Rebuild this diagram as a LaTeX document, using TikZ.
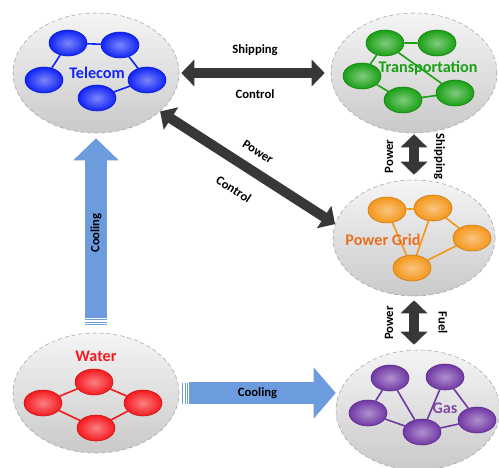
\documentclass[tikz,border=0pt]{standalone}
\usepackage{fontspec}
\setmainfont{Carlito}
\usetikzlibrary{shapes.geometric, arrows.meta, calc}

\definecolor{telblue}{RGB}{15,35,245}
\definecolor{tragreen}{RGB}{25,160,20}
\definecolor{pgorange}{RGB}{245,150,25}
\definecolor{pgtext}{RGB}{235,110,30}
\definecolor{watred}{RGB}{245,25,30}
\definecolor{gaspurple}{RGB}{112,55,165}
\definecolor{gastext}{RGB}{125,75,165}
\definecolor{coolblue}{RGB}{108,155,222}
\definecolor{darkarrow}{RGB}{55,55,55}

\tikzset{
  sysbox/.style={ellipse, minimum width=41.5mm, minimum height=30mm, draw=gray!70,
    densely dashed, thin, top color=gray!8, bottom color=gray!42},
  subnet/.style={ellipse, minimum width=9.5mm, minimum height=6.5mm, inner sep=0pt,
    draw=#1!80!black, thin, inner color=#1!55!white, outer color=#1},
  link/.style={line width=0.4mm, draw=#1},
  systitle/.style={font=\fontsize{11.5}{13}\selectfont\bfseries, text=#1},
  lbl/.style={font=\fontsize{9}{10}\selectfont\bfseries, inner sep=0pt},
  dblarrow/.style={draw=darkarrow, line width=2.5mm,
    {Triangle[width=6.5mm,length=3.25mm]}-{Triangle[width=6.5mm,length=3.25mm]}},
  coolarrow/.style={draw=coolblue, line width=5.5mm, -{Triangle[width=#1,length=5.5mm]}},
  coolarrow/.default=11mm,
  stripe/.style={draw=coolblue, line width=0.35mm},
}

\begin{document}
\begin{tikzpicture}[x=0.25mm, y=0.25mm]
  \useasboundingbox (0,0) rectangle (499,467);

  % 五个系统
  \node[sysbox] (tel) at (96,394) {};
  \node[sysbox] (tra) at (414,394) {};
  \node[sysbox, minimum width=40.5mm, minimum height=29mm] (pg) at (414,229) {};
  \node[sysbox] (wat) at (96,74) {};
  \node[sysbox, minimum width=41mm] (gas) at (418,57) {};

  % Telecom
  \node[subnet=telblue] (tc1) at (68,424) {};
  \node[subnet=telblue] (tc2) at (120,422) {};
  \node[subnet=telblue] (tc3) at (44,387) {};
  \node[subnet=telblue] (tc4) at (147,387) {};
  \node[subnet=telblue] (tc5) at (97,369) {};
  \draw[link=telblue] (tc1) -- (tc2) (tc2) -- (tc4) (tc4) -- (tc5) (tc1) -- (tc3);
  \node[systitle=telblue] (telname) at (97,394) {Telecom};

  % Transportation
  \node[subnet=tragreen] (tr1) at (385,424) {};
  \node[subnet=tragreen] (tr2) at (437,424) {};
  \node[subnet=tragreen] (tr3) at (362,391) {};
  \node[subnet=tragreen] (tr4) at (403,367) {};
  \node[subnet=tragreen] (tr5) at (455,374) {};
  \draw[link=tragreen] (tr1) -- (tr2) (tr1) -- (tr3) (tr3) -- (tr4) (tr4) -- (tr5) (tr1) -- (tr5);
  \node[systitle=tragreen] (traname) at (428,399) {Transportation};

  % Power Grid
  \node[subnet=pgorange] (pg1) at (387,257) {};
  \node[subnet=pgorange] (pg2) at (433,259) {};
  \node[subnet=pgorange] (pg3) at (472,229) {};
  \node[subnet=pgorange] (pg4) at (412,199) {};
  \draw[link=pgorange] (pg1) -- (pg2) (pg2) -- (pg3) (pg3) -- (pg4) (pg1) -- (pg4) (pg2) -- (pg4);
  \node[systitle=pgtext] (pgname) at (383,227) {Power Grid};

  % Water
  \node[subnet=watred] (wa1) at (43,64) {};
  \node[subnet=watred] (wa2) at (94,85) {};
  \node[subnet=watred] (wa3) at (143,64) {};
  \node[subnet=watred] (wa4) at (96,39) {};
  \draw[link=watred] (wa1) -- (wa2) (wa2) -- (wa3) (wa3) -- (wa4) (wa4) -- (wa1);
  \node[systitle=watred] (watname) at (96,111) {Water};

  % Gas
  \node[subnet=gaspurple] (ga1) at (390,89) {};
  \node[subnet=gaspurple] (ga2) at (445,90) {};
  \node[subnet=gaspurple] (ga3) at (368,54) {};
  \node[subnet=gaspurple] (ga4) at (422,35) {};
  \node[subnet=gaspurple] (ga5) at (477,47) {};
  \draw[link=gaspurple] (ga1) -- (ga3) (ga1) -- (ga4) (ga3) -- (ga4) (ga2) -- (ga4) (ga2) -- (ga5) (ga4) -- (ga5);
  \node[systitle=gastext] (gasname) at (445,59) {Gas};

  % 依赖关系（深色双向箭头）
  \draw[dblarrow, shorten <=0.5mm, shorten >=1.5mm] (tel.east)
    -- node[lbl, above=3mm] {Shipping} node[lbl, below=3mm] {Control} (tra.west);
  \draw[dblarrow] (tel.-31)
    -- node[lbl, sloped, above=2.5mm] {Power} node[lbl, sloped, below=4mm] {Control} (pg.170);
  \draw[dblarrow, shorten <=0.25mm, shorten >=1.25mm] (tra.south)
    -- node[lbl, xshift=-6.25mm, rotate=90] {Power} node[lbl, xshift=6.4mm, rotate=-90] {Shipping} (pg.north);
  \draw[dblarrow, shorten <=1mm, shorten >=1.25mm] (pg.south)
    -- node[lbl, xshift=-6.25mm, rotate=90] {Power} node[lbl, xshift=7.25mm, rotate=-90] {Fuel} (pg.south |- gas.north);

  % 冷却（蓝色箭头，尾部条纹）
  \draw[coolarrow, shorten <=3.75mm, shorten >=1.25mm] (wat.north)
    -- node[lbl, rotate=90] {Cooling} (tel.south);
  \foreach \d in {8,10.5,13}
    \draw[stripe] ($(wat.north)+(-11,\d)$) -- ++(22,0);
  \draw[coolarrow=12.5mm, shorten <=2.5mm] (wat.east)
    -- node[lbl] {Cooling} (wat.east -| gas.west);
  \foreach \d in {3.5,6,8.5}
    \draw[stripe] ($(wat.east)+(\d,-10.5)$) -- ++(0,21);

\end{tikzpicture}
\end{document}
